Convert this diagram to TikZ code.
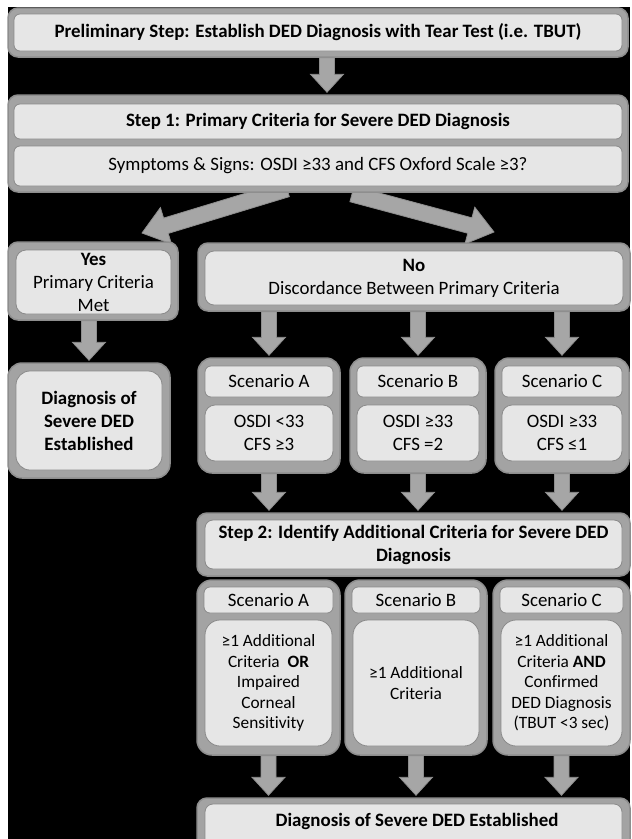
\documentclass[tikz,border=0pt]{standalone}
\usepackage{fontspec}
\setmainfont{Carlito}[Ligatures=NoCommon]
\usetikzlibrary{calc}
\definecolor{ofill}{HTML}{A3A3A3}
\definecolor{odraw}{HTML}{8E8E8E}
\definecolor{ifill}{HTML}{E6E6E6}
\definecolor{idraw}{HTML}{8A8A8A}
\definecolor{afill}{HTML}{A6A6A6}
\definecolor{adraw}{HTML}{8E8E8E}
\pgfdeclarelayer{bg}
\pgfdeclarelayer{arr}
\pgfsetlayers{bg,arr,main}
\tikzset{
  outer/.style={draw=odraw, fill=ofill, line width=1.5pt, rounded corners=10pt, inner sep=0pt},
  inner/.style={draw=idraw, fill=ifill, line width=0.8pt, rounded corners=6pt, inner sep=0pt, align=center, text=black},
  wh/.style 2 args={minimum width=#1pt, minimum height=#2pt},
  arrowsty/.style={fill=afill, draw=adraw, line width=0.8pt, line join=miter},
  small/.style={font=\fontsize{17.3pt}{20.5pt}\selectfont}
}
% block arrow: #1 start, #2 end (coordinate names), #3 half shaft, #4 half head, #5 head length
\newcommand\mybarrow[5]{%
  \path ($(#2)!#5!(#1)$) coordinate (bahb);
  \filldraw[arrowsty] ($(#1)!#3!90:(#2)$) -- ($(bahb)!#3!90:(#2)$) -- ($(bahb)!#4!90:(#2)$) -- (#2)
    -- ($(bahb)!#4!-90:(#2)$) -- ($(bahb)!#3!-90:(#2)$) -- ($(#1)!#3!-90:(#2)$) -- cycle;
}
% vertical block arrow from node #1 (south) to node #2 (north) at the x of #3
\newcommand\myvarrow[3]{%
  \path (#1.south -| #3) coordinate (vas) ($(#2.north -| #3)+(0,-2)$) coordinate (vae);
  \mybarrow{vas}{vae}{7.5pt}{16.5pt}{18pt}%
}
\begin{document}
\begin{tikzpicture}[x=1pt,y=-1pt, font=\fontsize{18.9pt}{23pt}\selectfont]
\useasboundingbox (0,0) rectangle (632,839);
\begin{pgfonlayer}{bg}
  \fill[white] (0,0) rectangle (632,839);
  \fill[black] (8,7) rectangle (630,839);
\end{pgfonlayer}

% Preliminary step
\node[outer, wh={620}{49}] (preO) at (318,32.5) {};
\node[inner, wh={608}{37}] (preI) at (318,32.5) {\textbf{Preliminary Step: Establish DED Diagnosis with Tear Test (i.e. TBUT)}};

% Step 1
\node[outer, wh={620}{97}] (s1O) at (318,143.5) {};
\node[inner, wh={608}{35}] (s1T) at (318,121.5) {\textbf{Step 1: Primary Criteria for Severe DED Diagnosis}};
\node[inner, wh={608}{40}] (s1Q) at (318,166) {Symptoms \& Signs: OSDI ≥33 and CFS Oxford Scale ≥3?};

% Yes / No
\node[outer, wh={170}{78}] (yesO) at (93,281) {};
\node[inner, rounded corners=10pt, wh={155}{64}] (yesI) at (93.5,282) {\textbf{Yes}\\Primary Criteria\\Met};
\node[outer, wh={432}{68}] (noO) at (414,277) {};
\node[inner, rounded corners=9pt, wh={418}{54}] (noI) at (414,278) {\textbf{No}\\Discordance Between Primary Criteria};

% Diagnosis (left)
\node[outer, rounded corners=14pt, wh={162}{115}] (diagO) at (89,420.5) {};
\node[inner, rounded corners=14pt, wh={146}{99}] (diagI) at (89,420.5) {\textbf{Diagnosis of}\\\textbf{Severe DED}\\\textbf{Established}};

% Scenario row 1
\node[outer, rounded corners=14pt, wh={142}{115}] (A1O) at (269,415.5) {};
\node[inner, wh={128}{31}] (A1T) at (269,381.5) {Scenario A};
\node[inner, rounded corners=10pt, wh={128}{56}] (A1C) at (269,433) {OSDI <33\\CFS ≥3};
\node[outer, rounded corners=14pt, wh={136}{115}] (B1O) at (418,415.5) {};
\node[inner, wh={122}{31}] (B1T) at (418,381.5) {Scenario B};
\node[inner, rounded corners=10pt, wh={122}{56}] (B1C) at (418,433) {OSDI ≥33\\CFS =2};
\node[outer, rounded corners=14pt, wh={134}{115}] (C1O) at (562,415.5) {};
\node[inner, wh={120}{31}] (C1T) at (562,381.5) {Scenario C};
\node[inner, rounded corners=10pt, wh={120}{56}] (C1C) at (562,433) {OSDI ≥33\\CFS ≤1};

% Step 2
\node[outer, wh={433}{63}] (s2O) at (413.5,544.5) {};
\node[inner, rounded corners=8pt, wh={417}{49}] (s2I) at (413.5,544.5) {\textbf{Step 2: Identify Additional Criteria for Severe DED}\\\textbf{Diagnosis}};

% Scenario row 2
\node[outer, rounded corners=15pt, wh={143}{175}] (A2O) at (268.5,667.5) {};
\node[inner, wh={129}{26}] (A2T) at (268.5,600) {Scenario A};
\node[inner, small, rounded corners=15pt, wh={127}{126}] (A2C) at (268.5,683) {≥1 Additional\\Criteria \ \textbf{OR}\\Impaired\\Corneal\\Sensitivity};
\node[outer, rounded corners=15pt, wh={142}{175}] (B2O) at (416,667.5) {};
\node[inner, wh={128}{26}] (B2T) at (416,600) {Scenario B};
\node[inner, small, rounded corners=15pt, wh={126}{126}] (B2C) at (416,683) {≥1 Additional\\Criteria};
\node[outer, rounded corners=15pt, wh={137}{175}] (C2O) at (561.5,667.5) {};
\node[inner, wh={123}{26}] (C2T) at (561.5,600) {Scenario C};
\node[inner, small, rounded corners=15pt, wh={121}{126}] (C2C) at (561.5,683) {≥1 Additional\\Criteria \textbf{AND}\\Confirmed\\DED Diagnosis\\(TBUT <3 sec)};

% Final
\node[outer, wh={433}{60}] (finO) at (413.5,828) {};
\node[inner, rounded corners=8pt, wh={417}{50}] (finI) at (413.5,829) {};
\node[inner sep=0pt] (finT) at (417,821) {\textbf{Diagnosis of Severe DED Established}};

% arrows
\coordinate (xa) at (327,0);
\coordinate (dls) at (287,189);
\coordinate (dle) at (142,233);
\coordinate (drs) at (352,194);
\coordinate (dre) at (494,232);
\begin{pgfonlayer}{arr}
  \myvarrow{preO}{s1O}{xa}
  \mybarrow{dls}{dle}{8pt}{19pt}{25pt}
  \mybarrow{drs}{dre}{8pt}{19pt}{25pt}
  \myvarrow{yesO}{diagO}{diagO}
  \myvarrow{noO}{A1O}{A1O}
  \myvarrow{noO}{B1O}{B1O}
  \myvarrow{noO}{C1O}{C1O}
  \myvarrow{A1O}{s2O}{A1O}
  \myvarrow{B1O}{s2O}{B1O}
  \myvarrow{C1O}{s2O}{C1O}
  \myvarrow{A2O}{finO}{A2O}
  \myvarrow{B2O}{finO}{B2O}
  \myvarrow{C2O}{finO}{C2O}
\end{pgfonlayer}
\end{tikzpicture}
\end{document}
